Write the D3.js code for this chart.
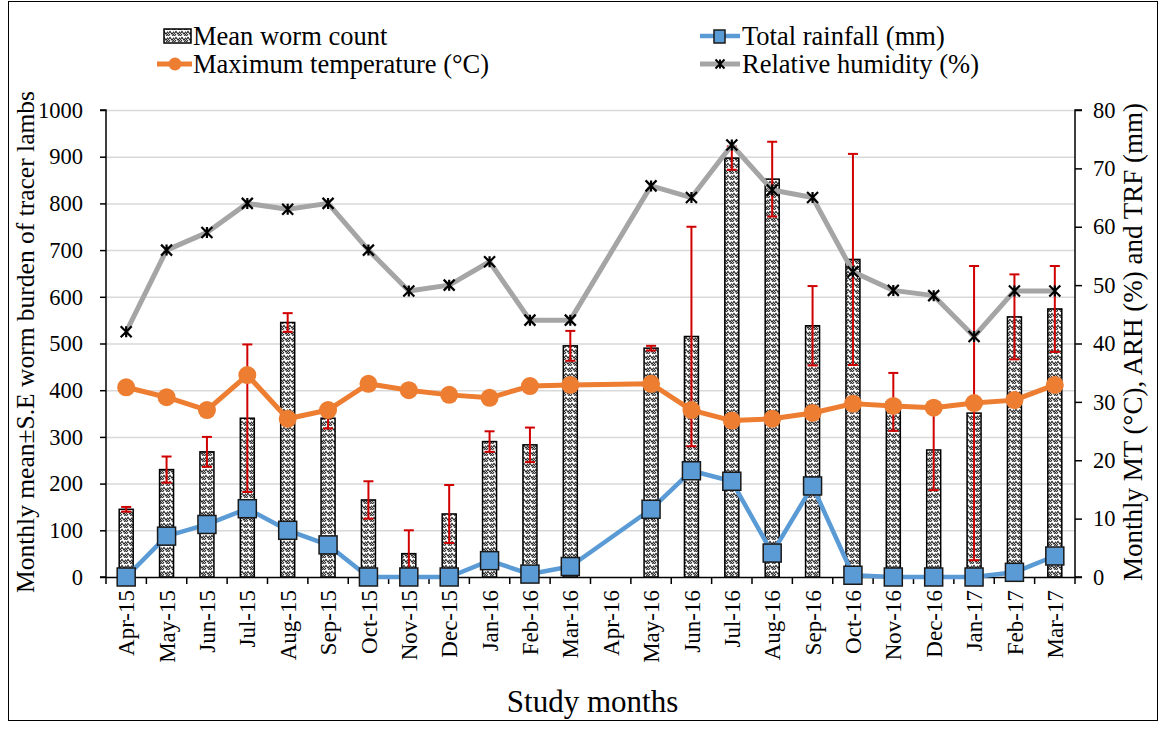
<!DOCTYPE html>
<html><head><meta charset="utf-8">
<script src="https://cdn.jsdelivr.net/npm/d3@7"></script>
<style>body{margin:0;background:#fff}svg{display:block}</style>
</head><body><svg id="c" width="1165" height="730"></svg>
<script>
const months = ["Apr-15","May-15","Jun-15","Jul-15","Aug-15","Sep-15","Oct-15","Nov-15","Dec-15","Jan-16","Feb-16","Mar-16","Apr-16","May-16","Jun-16","Jul-16","Aug-16","Sep-16","Oct-16","Nov-16","Dec-16","Jan-17","Feb-17","Mar-17"];
const wormMean = [145,230,268,340,545,340,165,50,135,290,283,495,null,490,515,897,852,538,680,375,272,351,557,574];
const wormSE   = [5,28,32,158,20,22,40,50,62,22,37,32,null,5,235,25,80,85,226,62,86,315,91,92];
const rainfall = [0,7,9,11.7,8,5.5,0,0,0,2.8,0.5,1.8,null,11.6,18.2,16.4,4.1,15.6,0.3,0,0,0,0.8,3.6];
const maxTemp  = [32.5,30.8,28.6,34.6,27.1,28.6,33.1,32,31.2,30.7,32.7,32.9,null,33.1,28.6,26.8,27.1,28.1,29.7,29.3,29,29.8,30.3,32.9];
const humidity = [42,56,59,64,63,64,56,49,50,54,44,44,null,67,65,74,66.3,65,52.3,49.1,48.2,41.2,49,49];
const leftTicks = [0,100,200,300,400,500,600,700,800,900,1000];
const rightTicks = [0,10,20,30,40,50,60,70,80];
const legendItems = ["Mean worm count","Total rainfall (mm)","Maximum temperature (°C)","Relative humidity (%)"];
const xTitle = "Study months";
const yLeftTitle = "Monthly mean±S.E worm burden of tracer lambs";
const yRightTitle = "Monthly MT (°C), ARH (%) and TRF (mm)";

const FONT = "Liberation Serif";
const svg = d3.select("#c");
const L = 106, R = 1075, T = 110, B = 577;
const x = d3.scaleBand().domain(months).range([L, R]).padding(0);
const yL = d3.scaleLinear().domain([0,1000]).range([B, T]);
const yR = d3.scaleLinear().domain([0,80]).range([B, T]);
const cx = m => x(m) + x.bandwidth()/2;

// frame
svg.append("rect").attr("x",8.5).attr("y",1.5).attr("width",1149).attr("height",719).attr("fill","none").attr("stroke","#000").attr("stroke-width",1);

// pattern
const defs = svg.append("defs");
const pat = defs.append("pattern").attr("id","weave").attr("patternUnits","userSpaceOnUse").attr("width",6).attr("height",6);
pat.append("rect").attr("width",6).attr("height",6).attr("fill","#fff");
pat.append("path").attr("d","M0,4 L2,1.5 L4,4 L6,1.5 M0,6.5 L2,4 M4,6.5 L6,4").attr("stroke","#222").attr("stroke-width",1.1).attr("fill","none");

// grid
svg.append("g").selectAll("line").data(leftTicks.filter(d=>d>0)).join("line")
  .attr("x1",L).attr("x2",R).attr("y1",d=>yL(d)+0.5).attr("y2",d=>yL(d)+0.5)
  .attr("stroke","#d9d9d9").attr("stroke-width",1.5);

// axes
const axL = svg.append("g").attr("transform",`translate(${L},0)`).call(d3.axisLeft(yL).tickValues(leftTicks).tickFormat(d3.format("d")).tickSize(6).tickPadding(17));
const axR = svg.append("g").attr("transform",`translate(${R},0)`).call(d3.axisRight(yR).tickValues(rightTicks).tickFormat(d3.format("d")).tickSize(7).tickPadding(11));
[axL,axR].forEach(a=>{a.attr("font-family",FONT);a.select(".domain").attr("stroke","#000").attr("stroke-width",1.5);a.selectAll(".tick line").attr("stroke","#000").attr("stroke-width",1.5);a.selectAll("text").attr("font-size",22.5).attr("font-family",FONT).attr("fill","#000");});
axL.select(".domain").attr("d",`M-6,${T}H0V${B}H-6`);
axR.select(".domain").attr("d",`M7,${T}H0V${B}H7`);

// bars
const bw = 14;
const barData = months.map((m,i)=>({m, v:wormMean[i], e:wormSE[i]})).filter(d=>d.v!=null);
svg.append("g").selectAll("rect").data(barData).join("rect")
  .attr("x",d=>cx(d.m)-bw/2).attr("y",d=>yL(d.v)).attr("width",bw).attr("height",d=>B-yL(d.v))
  .attr("fill","url(#weave)").attr("stroke","#000").attr("stroke-width",1.5);

// error bars
const eg = svg.append("g").attr("stroke","#d00000").attr("stroke-width",2);
barData.forEach(d=>{
  const top = yL(d.v+d.e), bot = yL(Math.max(0,d.v-d.e)), c = cx(d.m);
  eg.append("line").attr("x1",c).attr("x2",c).attr("y1",top).attr("y2",bot);
  eg.append("line").attr("x1",c-5).attr("x2",c+5).attr("y1",top).attr("y2",top);
  eg.append("line").attr("x1",c-5).attr("x2",c+5).attr("y1",bot).attr("y2",bot);
});

// x axis
const axB = svg.append("g").attr("transform",`translate(0,${B})`);
axB.append("line").attr("x1",L).attr("x2",R).attr("y1",0.5).attr("y2",0.5).attr("stroke","#000").attr("stroke-width",1.5);
axB.selectAll("line.t").data(months.concat(["__end"])).join("line").attr("class","t")
  .attr("x1",(d,i)=>L + i*x.step()).attr("x2",(d,i)=>L + i*x.step()).attr("y1",0).attr("y2",7).attr("stroke","#000").attr("stroke-width",1.5);
axB.selectAll("text").data(months).join("text")
  .attr("transform",d=>`translate(${cx(d)},13) rotate(-90)`).attr("text-anchor","end").attr("dy","0.35em")
  .attr("font-size",23).attr("font-family",FONT).text(d=>d);

// lines
function series(vals){ return months.map((m,i)=>({m,v:vals[i]})).filter(d=>d.v!=null); }
const rainD = series(rainfall), tempD = series(maxTemp), humD = series(humidity);
const line = d3.line().x(d=>cx(d.m)).y(d=>yR(d.v));

svg.append("path").datum(rainD).attr("d",line).attr("fill","none").attr("stroke","#5b9bd5").attr("stroke-width",4.5).attr("stroke-linejoin","round");
svg.append("path").datum(tempD).attr("d",line).attr("fill","none").attr("stroke","#ed7d31").attr("stroke-width",5).attr("stroke-linejoin","round");
svg.append("path").datum(humD).attr("d",line).attr("fill","none").attr("stroke","#a5a5a5").attr("stroke-width",5).attr("stroke-linejoin","round");

svg.append("g").selectAll("rect").data(rainD).join("rect")
  .attr("x",d=>cx(d.m)-9).attr("y",d=>yR(d.v)-9).attr("width",18).attr("height",18)
  .attr("fill","#5b9bd5").attr("stroke","#1a1a1a").attr("stroke-width",1.5);
svg.append("g").selectAll("circle").data(tempD).join("circle")
  .attr("cx",d=>cx(d.m)).attr("cy",d=>yR(d.v)).attr("r",9).attr("fill","#ed7d31");
function starPath(s){return `M${-s},${-s}L${s},${s}M${-s},${s}L${s},${-s}M0,${-s}L0,${s}`;}
svg.append("g").selectAll("path").data(humD).join("path")
  .attr("transform",d=>`translate(${cx(d.m)},${yR(d.v)})`).attr("d",starPath(5.5))
  .attr("stroke","#000").attr("stroke-width",2.2).attr("fill","none");

// axis titles
svg.append("text").attr("x",(L+R)/2+2).attr("y",712).attr("text-anchor","middle").attr("font-size",31).attr("font-family",FONT).text(xTitle);
svg.append("text").attr("transform",`translate(34,342) rotate(-90)`).attr("text-anchor","middle").attr("font-size",25.5).attr("font-family",FONT).text(yLeftTitle);
svg.append("text").attr("transform",`translate(1142,342) rotate(-90)`).attr("text-anchor","middle").attr("font-size",27).attr("font-family",FONT).text(yRightTitle);

// legend
const lg = svg.append("g");
lg.append("rect").attr("x",164).attr("y",29).attr("width",27).attr("height",14).attr("fill","url(#weave)").attr("stroke","#000").attr("stroke-width",1.5);
lg.append("text").attr("x",193).attr("y",45).attr("font-size",26.5).attr("font-family",FONT).text(legendItems[0]);
lg.append("line").attr("x1",700).attr("x2",740).attr("y1",36).attr("y2",36).attr("stroke","#5b9bd5").attr("stroke-width",4.5);
lg.append("rect").attr("x",714).attr("y",30).attr("width",11).attr("height",13).attr("fill","#5b9bd5").attr("stroke","#1a1a1a").attr("stroke-width",1.5);
lg.append("text").attr("x",742).attr("y",45).attr("font-size",26.5).attr("font-family",FONT).text(legendItems[1]);
lg.append("line").attr("x1",157).attr("x2",192).attr("y1",64).attr("y2",64).attr("stroke","#ed7d31").attr("stroke-width",5);
lg.append("circle").attr("cx",175).attr("cy",64).attr("r",6.5).attr("fill","#ed7d31");
lg.append("text").attr("x",193).attr("y",73).attr("font-size",26.5).attr("font-family",FONT).text(legendItems[2]);
lg.append("line").attr("x1",700).attr("x2",740).attr("y1",64).attr("y2",64).attr("stroke","#a5a5a5").attr("stroke-width",5);
lg.append("path").attr("transform","translate(720,64)").attr("d",starPath(4.5)).attr("stroke","#000").attr("stroke-width",2).attr("fill","none");
lg.append("text").attr("x",742).attr("y",73).attr("font-size",26.5).attr("font-family",FONT).text(legendItems[3]);
</script></body></html>
